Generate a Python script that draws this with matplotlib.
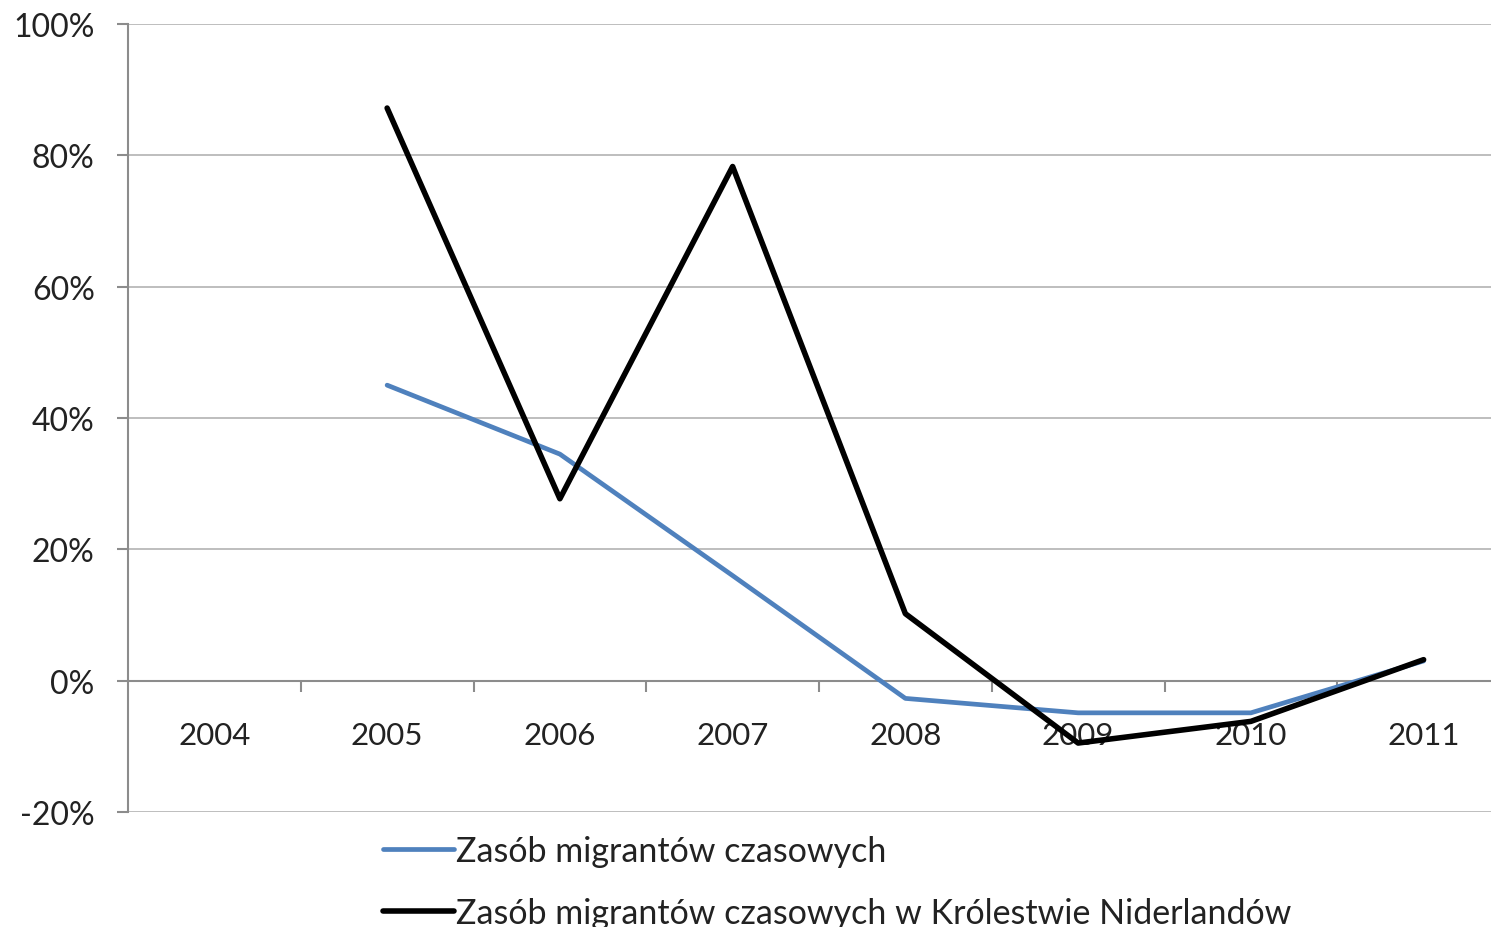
import matplotlib.pyplot as plt
from matplotlib.ticker import FixedLocator, FuncFormatter

years = ["2004", "2005", "2006", "2007", "2008", "2009", "2010", "2011"]
# series start in 2005 (no value for 2004)
temp_migrants = [None, 45.0, 34.5, 16.0, -2.7, -4.9, -4.9, 3.0]
temp_migrants_nl = [None, 87.2, 27.7, 78.3, 10.2, -9.5, -6.2, 3.2]

plt.rcParams["font.family"] = ["Lato", "DejaVu Sans"]

fig = plt.figure(figsize=(14.91, 9.28), dpi=100)
ax = fig.add_axes([128 / 1491, 1 - 813 / 928, 1 - 128 / 1491, (813 - 25) / 928])

xs = list(range(len(years)))
x1 = [x for x, v in zip(xs, temp_migrants) if v is not None]
y1 = [v for v in temp_migrants if v is not None]
x2 = [x for x, v in zip(xs, temp_migrants_nl) if v is not None]
y2 = [v for v in temp_migrants_nl if v is not None]

ax.plot(x1, y1, color="#4F81BD", linewidth=3.4, solid_capstyle="round",
        label="Zasób migrantów czasowych", zorder=3)
ax.plot(x2, y2, color="black", linewidth=4.0, solid_capstyle="round",
        label="Zasób migrantów czasowych w Królestwie Niderlandów", zorder=4)

ax.set_xlim(-0.5, 7.39)
ax.set_ylim(-20, 100)
ax.set_yticks(range(-20, 101, 20))
ax.yaxis.set_major_formatter(FuncFormatter(lambda v, p: f"{v:.0f}%"))
ax.grid(axis="y", color="#b3b3b3", linewidth=1.2)
ax.set_axisbelow(True)

# category axis drawn at 0%
ax.spines["bottom"].set_position(("data", 0))
ax.spines["top"].set_visible(False)
ax.spines["right"].set_visible(False)
ax.spines["left"].set_color("#8c8c8c")
ax.spines["bottom"].set_color("#8c8c8c")
ax.spines["left"].set_linewidth(1.5)
ax.spines["bottom"].set_linewidth(1.5)

ax.set_xticks(xs)
ax.set_xticklabels(years)
ax.xaxis.set_minor_locator(FixedLocator([i + 0.5 for i in range(7)]))
ax.tick_params(axis="x", which="major", length=0, pad=29, labelsize=22.5, colors="#222222")
ax.tick_params(axis="x", which="minor", length=8, width=1.5, color="#8c8c8c", direction="out")
ax.tick_params(axis="y", length=8, width=1.5, color="#8c8c8c", labelsize=23,
               labelcolor="#222222", pad=16)

fig.legend(loc="upper left", bbox_to_anchor=(383 / 1491, 1 - 836 / 928),
           frameon=False, fontsize=24.5, handlelength=2.1, handletextpad=0.05,
           borderpad=0, borderaxespad=0, labelspacing=0.88, labelcolor="#222222")

fig.savefig("out.png", dpi=100)
